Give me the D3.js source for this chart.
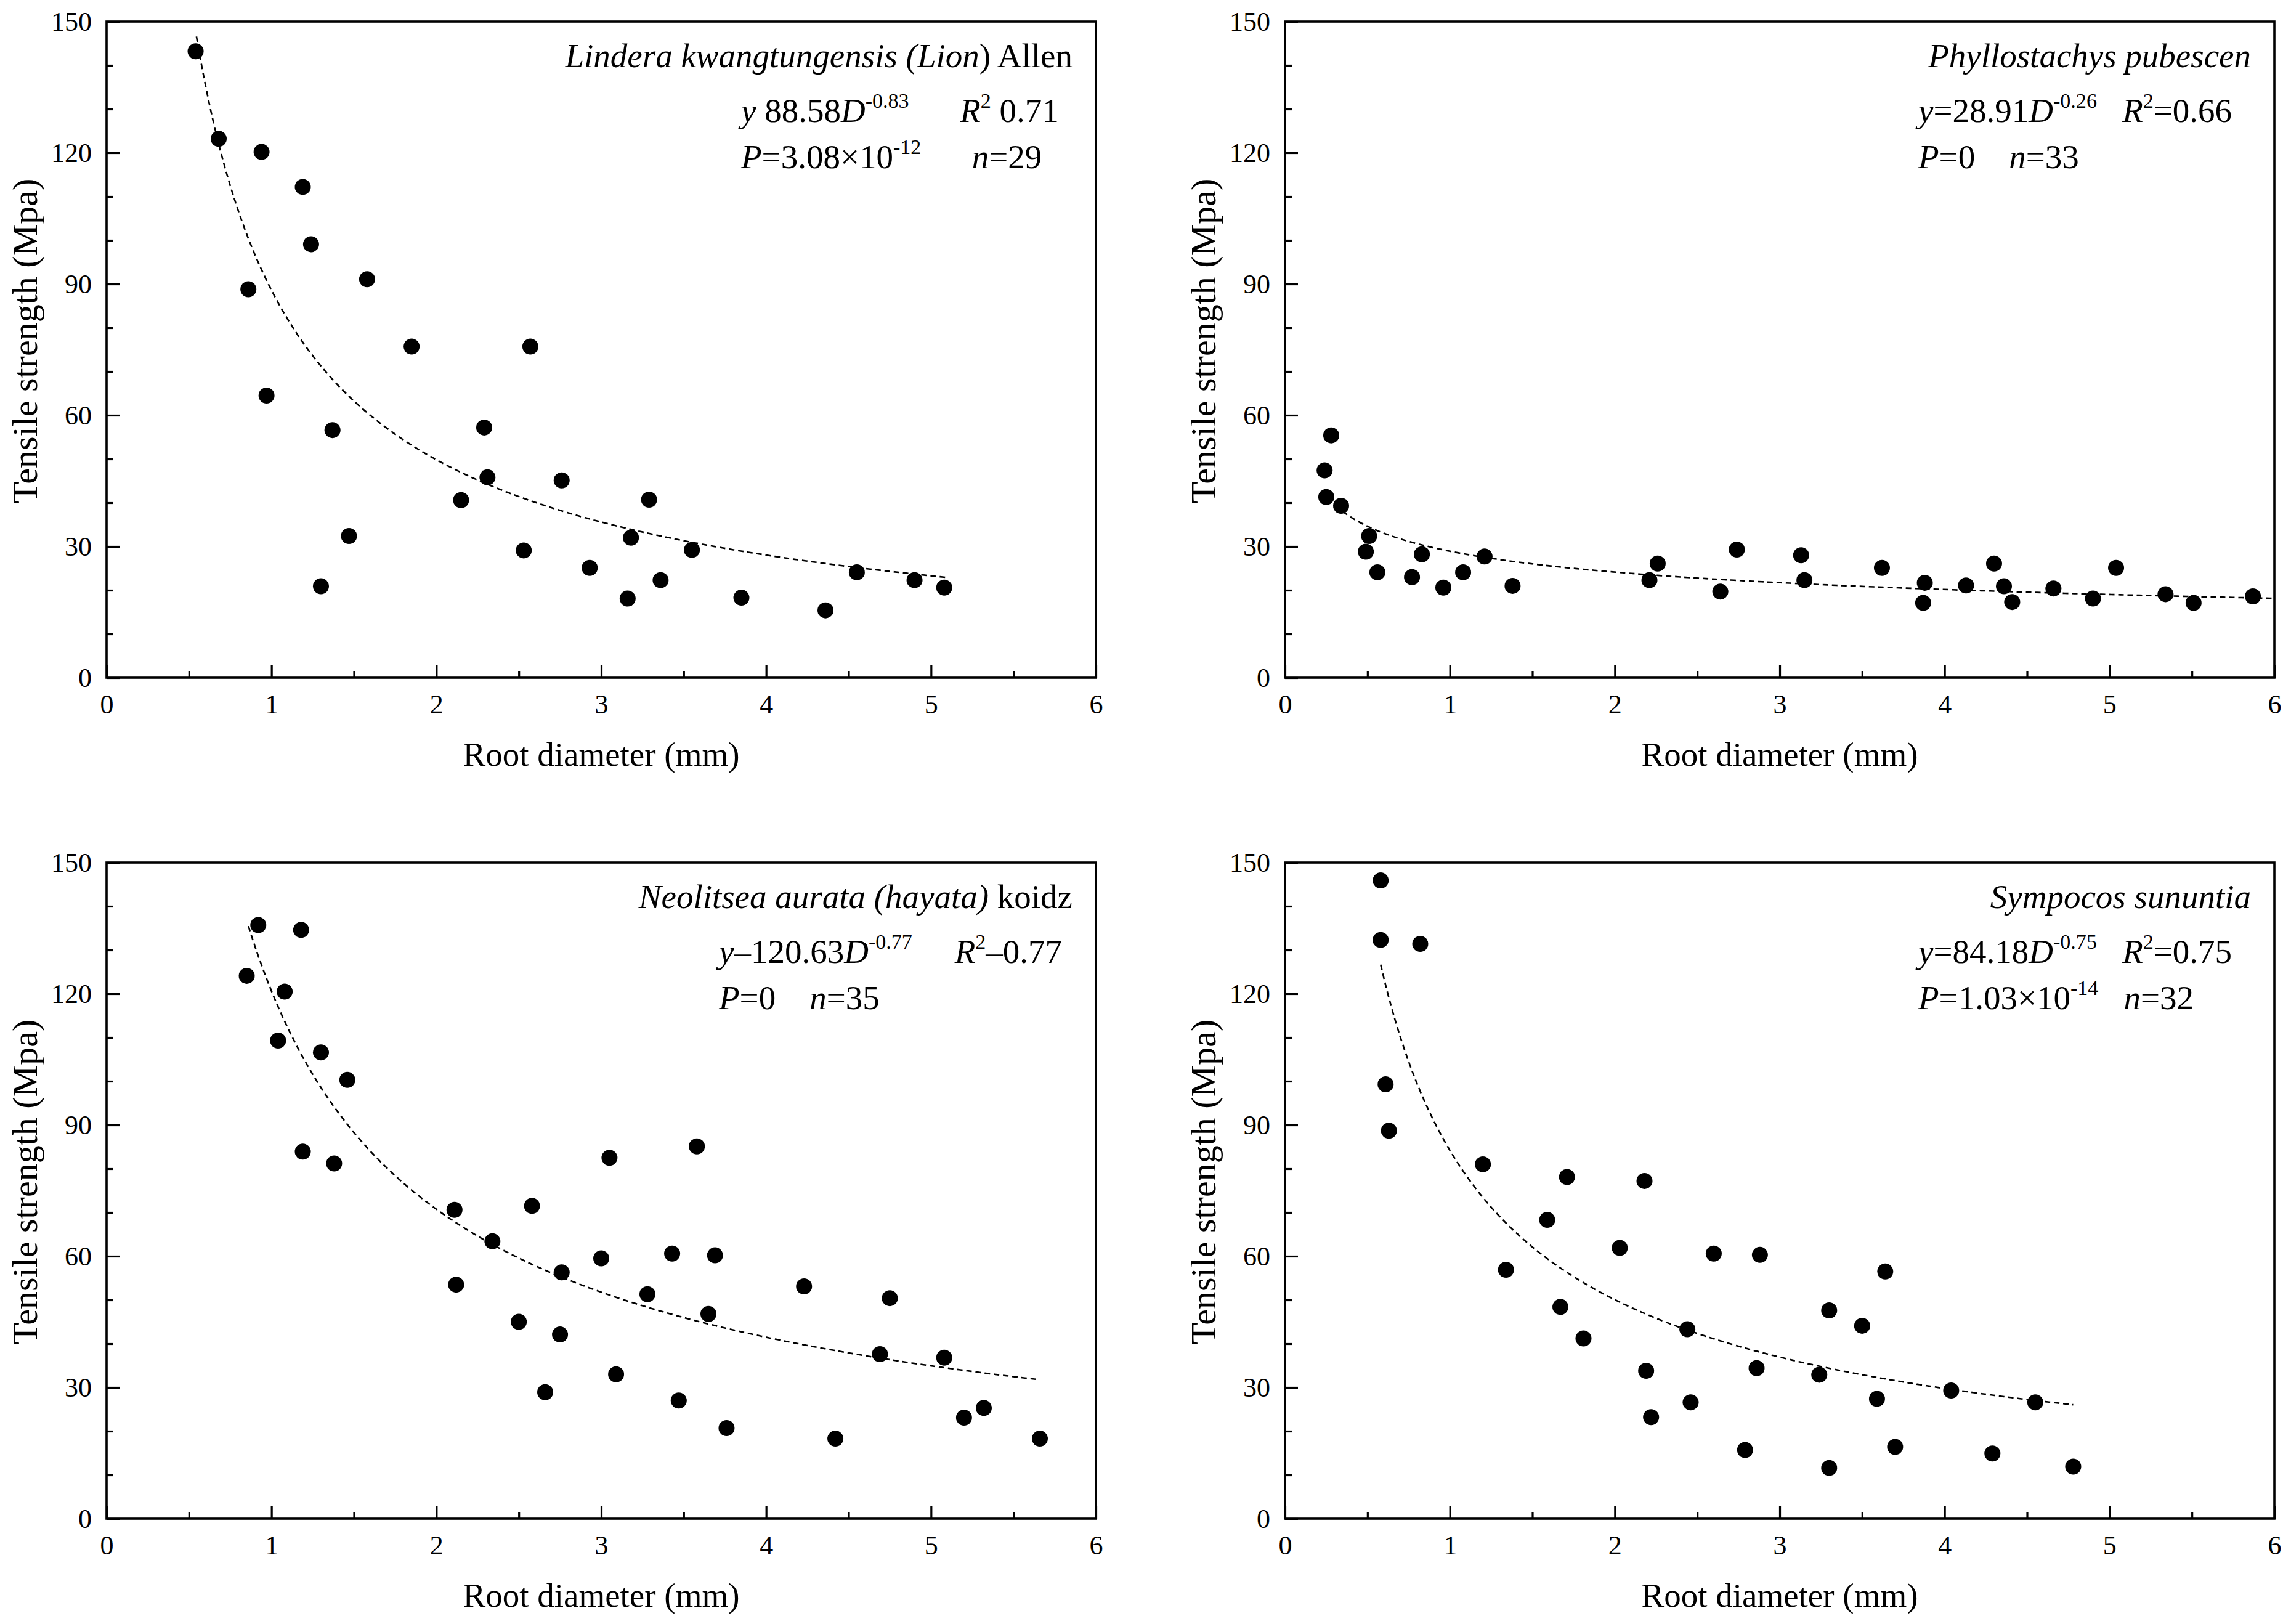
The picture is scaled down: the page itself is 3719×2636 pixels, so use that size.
<!DOCTYPE html>
<html>
<head>
<meta charset="utf-8">
<script src="https://cdn.jsdelivr.net/npm/d3@7"></script>
<style>
  body { margin: 0; background: #fff; }
  text { font-family: "Liberation Serif", "Times New Roman", serif; fill: #000; }
</style>
</head>
<body>
<script>
// ---- data ----
var lkDiameter = [0.54, 0.68, 0.94, 0.86, 0.97, 1.19, 1.24, 1.37, 1.47, 1.30, 1.58, 1.85, 2.15, 2.29, 2.31,
                  2.57, 2.53, 2.76, 2.93, 3.16, 3.18, 3.29, 3.36, 3.55, 3.85, 4.36, 4.55, 4.90, 5.08];
var lkStrength = [143.2, 123.2, 120.2, 88.8, 64.5, 112.2, 99.1, 56.6, 32.4, 20.9, 91.1, 75.7, 40.6, 57.2, 45.8,
                  75.7, 29.1, 45.1, 25.1, 18.1, 32.0, 40.7, 22.3, 29.2, 18.3, 15.4, 24.1, 22.3, 20.6];

var ppDiameter = [0.24, 0.28, 0.25, 0.34, 0.51, 0.49, 0.56, 0.77, 0.83, 0.96, 1.08, 1.21, 1.38, 2.21, 2.26, 2.64,
                  2.74, 3.13, 3.15, 3.62, 3.88, 3.87, 4.13, 4.30, 4.36, 4.41, 4.66, 4.90, 5.04, 5.34, 5.51, 5.87];
var ppStrength = [47.4, 55.4, 41.3, 39.3, 32.4, 28.8, 24.1, 23.0, 28.2, 20.6, 24.1, 27.7, 21.0, 22.3, 26.1, 19.7,
                  29.3, 28.0, 22.3, 25.1, 21.7, 17.1, 21.1, 26.1, 20.9, 17.3, 20.4, 18.1, 25.1, 19.1, 17.1, 18.6];

var naDiameter = [0.85, 0.92, 1.18, 1.08, 1.04, 1.30, 1.46, 1.19, 1.38, 2.11, 2.12, 2.34, 2.50, 2.58, 2.66, 2.75,
                  2.76, 3.00, 3.05, 3.09, 3.28, 3.43, 3.47, 3.58, 3.65, 3.69, 3.76, 4.23, 4.42, 4.69, 4.75, 5.08,
                  5.20, 5.32, 5.66];
var naStrength = [124.1, 135.7, 134.6, 120.5, 109.3, 106.6, 100.3, 83.9, 81.2, 70.6, 53.5, 63.4, 45.0, 71.5, 28.9, 42.1,
                  56.3, 59.5, 82.5, 33.0, 51.3, 60.6, 27.0, 85.1, 46.8, 60.2, 20.7, 53.1, 18.3, 37.6, 50.4, 36.8,
                  23.1, 25.3, 18.3];

var ssDiameter = [0.58, 0.58, 0.82, 0.61, 0.63, 1.20, 1.34, 1.59, 1.71, 1.67, 1.81, 2.03, 2.18, 2.19, 2.22, 2.44,
                  2.46, 2.60, 2.88, 2.79, 2.86, 3.24, 3.30, 3.30, 3.50, 3.59, 3.64, 3.70, 4.04, 4.29, 4.55, 4.78];
var ssStrength = [145.9, 132.3, 131.4, 99.3, 88.7, 81.0, 56.9, 68.3, 78.1, 48.4, 41.2, 61.9, 77.2, 33.8, 23.2, 43.3,
                  26.6, 60.6, 60.3, 15.7, 34.4, 32.9, 47.6, 11.6, 44.1, 27.4, 56.5, 16.4, 29.3, 14.9, 26.6, 11.9];

// fitted power curves y = a * D^b, as printed on each panel
var fitA = [88.58, 28.91, 120.63, 84.18];
var fitB = [-0.83, -0.26, -0.77, -0.75];
var fitFrom = [0.545, 0.35, 0.86, 0.58];
var fitTo = [5.1, 6.0, 5.65, 4.78];

var xTicks = [0, 1, 2, 3, 4, 5, 6];
var yTicks = [0, 30, 60, 90, 120, 150];

// ---- layout ----
var W = 3719, H = 2636;
var plotW = 1606, plotH = 1065;
var lefts = [173, 2086], tops = [35, 1400];
var serif = "'Liberation Serif', 'Times New Roman', serif";

var panels = [
  { xs: lkDiameter, ys: lkStrength, col: 0, row: 0, eqX: 1030,
    title: [["Lindera kwangtungensis (", "i"], ["Lion", "i"], [") Allen", "n"]],
    line2: [["y", "i"], [" 88.58", "n"], ["D", "i"], ["-0.83", "s"], ["      ", "n"], ["R", "i"], ["2", "s"], [" 0.71", "n"]],
    line3: [["P", "i"], ["=3.08×10", "n"], ["-12", "s"], ["      ", "n"], ["n", "i"], ["=29", "n"]] },
  { xs: ppDiameter, ys: ppStrength, col: 1, row: 0, eqX: 1028,
    title: [["Phyllostachys pubescen", "i"]],
    line2: [["y", "i"], ["=28.91", "n"], ["D", "i"], ["-0.26", "s"], ["   ", "n"], ["R", "i"], ["2", "s"], ["=0.66", "n"]],
    line3: [["P", "i"], ["=0    ", "n"], ["n", "i"], ["=33", "n"]] },
  { xs: naDiameter, ys: naStrength, col: 0, row: 1, eqX: 994,
    title: [["Neolitsea aurata (hayata)", "i"], [" koidz", "n"]],
    line2: [["y", "i"], ["–120.63", "n"], ["D", "i"], ["-0.77", "s"], ["     ", "n"], ["R", "i"], ["2", "s"], ["–0.77", "n"]],
    line3: [["P", "i"], ["=0    ", "n"], ["n", "i"], ["=35", "n"]] },
  { xs: ssDiameter, ys: ssStrength, col: 1, row: 1, eqX: 1028,
    title: [["Sympocos sununtia", "i"]],
    line2: [["y", "i"], ["=84.18", "n"], ["D", "i"], ["-0.75", "s"], ["   ", "n"], ["R", "i"], ["2", "s"], ["=0.75", "n"]],
    line3: [["P", "i"], ["=1.03×10", "n"], ["-14", "s"], ["   ", "n"], ["n", "i"], ["=32", "n"]] }
];

var svg = d3.select("body").append("svg")
  .attr("width", W)
  .attr("height", H);

var x = d3.scaleLinear().domain([0, 6]).range([0, plotW]);
var y = d3.scaleLinear().domain([0, 150]).range([plotH, 0]);

// writes a line of mixed italic / superscript text
function richText(g, px, py, anchor, segs, size) {
  var t = g.append("text")
    .attr("x", px).attr("y", py)
    .attr("text-anchor", anchor)
    .style("white-space", "pre")
    .style("font-family", serif)
    .style("font-size", size + "px");
  var up = 0;
  segs.forEach(function(s) {
    var sp = t.append("tspan").text(s[0]);
    if (s[1] == "s") {
      sp.style("font-size", (size * 0.62) + "px").attr("dy", -size * 0.42);
      up = size * 0.42;
    } else {
      if (up) { sp.attr("dy", up); up = 0; }
      sp.style("font-style", s[1] == "i" ? "italic" : "normal");
    }
  });
}

panels.forEach(function(p, i) {
  var g = svg.append("g")
    .attr("transform", "translate(" + lefts[p.col] + "," + tops[p.row] + ")");

  // minor ticks
  g.append("g")
    .attr("transform", "translate(0," + plotH + ")")
    .call(d3.axisBottom(x).tickValues(d3.range(0.5, 6, 1)).tickSize(-11).tickFormat(""))
    .call(function(a) { a.select(".domain").remove(); });
  g.append("g")
    .call(d3.axisLeft(y).tickValues(d3.range(0, 151, 10).filter(function(v) { return v % 30; }))
      .tickSize(-11).tickFormat(""))
    .call(function(a) { a.select(".domain").remove(); });

  // major ticks
  var xa = g.append("g")
    .attr("transform", "translate(0," + plotH + ")")
    .call(d3.axisBottom(x).tickValues(xTicks).tickSize(-21).tickPadding(27).tickFormat(d3.format("d")));
  var ya = g.append("g")
    .call(d3.axisLeft(y).tickValues(yTicks).tickSize(-21).tickPadding(24).tickFormat(d3.format("d")));
  [xa, ya].forEach(function(a) {
    a.attr("font-family", serif).attr("font-size", 44);
    a.select(".domain").remove();
    a.selectAll("text").style("font-size", "44px").style("font-family", serif);
  });
  g.selectAll(".tick line").attr("stroke", "#000").attr("stroke-width", 3.2);

  // frame
  g.append("rect")
    .attr("width", plotW).attr("height", plotH)
    .attr("fill", "none").attr("stroke", "#000").attr("stroke-width", 3.6);

  // axis titles
  g.append("text")
    .attr("x", plotW / 2).attr("y", plotH + 143)
    .attr("text-anchor", "middle")
    .style("font-family", serif)
    .style("font-size", "55px")
    .text("Root diameter (mm)");
  g.append("text")
    .attr("transform", "translate(-113," + (plotH / 2 - 14) + ") rotate(-90)")
    .attr("text-anchor", "middle")
    .style("font-family", serif)
    .style("font-size", "58px")
    .text("Tensile strength (Mpa)");

  // fitted curve
  var curve = d3.range(0, 201).map(function(k) {
    var d = fitFrom[i] + (fitTo[i] - fitFrom[i]) * k / 200;
    return [d, fitA[i] * Math.pow(d, fitB[i])];
  });
  g.append("path")
    .datum(curve)
    .attr("d", d3.line().x(function(d) { return x(d[0]); }).y(function(d) { return y(d[1]); }))
    .attr("fill", "none")
    .attr("stroke", "#000")
    .attr("stroke-width", 2.6)
    .attr("stroke-dasharray", "9,6");

  // points
  g.selectAll("circle")
    .data(p.xs)
    .enter()
    .append("circle")
    .attr("cx", function(d) { return x(d); })
    .attr("cy", function(d, j) { return y(p.ys[j]); })
    .attr("r", 13)
    .attr("fill", "#000");

  // annotations
  richText(g, plotW - 38, 74, "end", p.title, 55);
  richText(g, p.eqX, 163, "start", p.line2, 55);
  richText(g, p.eqX, 238, "start", p.line3, 55);
});
</script>
</body>
</html>
